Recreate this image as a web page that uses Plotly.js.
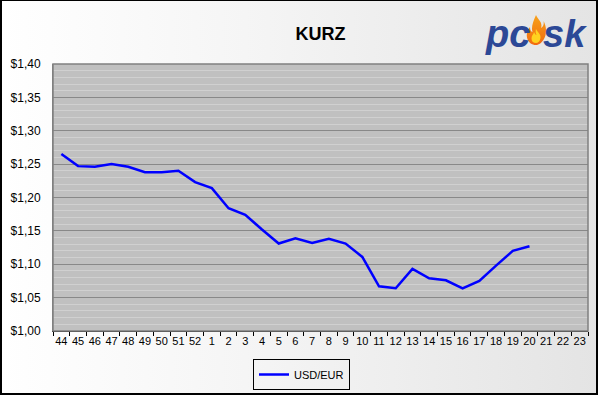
<!DOCTYPE html>
<html>
<head>
<meta charset="utf-8">
<script src="https://cdn.plot.ly/plotly-3.0.1.min.js"></script>
<style>
html,body{margin:0;padding:0;}
body{width:598px;height:395px;overflow:hidden;position:relative;background:linear-gradient(to right,#ffffff 0%,#f4f4f4 45%,#e4e4e4 100%);}
#chart{position:absolute;left:0;top:0;width:598px;height:395px;}
#frame{position:absolute;left:0;top:0;width:598px;height:395px;box-sizing:border-box;border-style:solid;border-color:#000;border-width:1px 2px 2px 2px;pointer-events:none;}
</style>
</head>
<body>
<div id="chart"></div>
<div id="frame"></div>
<script>
// Week labels (categories)
const weeks = ["44","45","46","47","48","49","50","51","52","1","2","3","4","5","6","7","8","9","10","11","12","13","14","15","16","17","18","19","20","21","22","23"];
// USD/EUR rate per week (weeks 21-23 have no data)
const usdEur = [1.265,1.247,1.246,1.250,1.246,1.238,1.238,1.240,1.223,1.214,1.184,1.174,1.152,1.131,1.139,1.132,1.138,1.131,1.111,1.067,1.064,1.093,1.079,1.076,1.064,1.075,1.098,1.120,1.127,null,null,null];
const seriesName = "USD/EUR";
const chartTitle = "KURZ";
const yTickVals = [1.00,1.05,1.10,1.15,1.20,1.25,1.30,1.35,1.40];
const yTickText = yTickVals.map(v => '$' + v.toFixed(2).replace('.', ','));

// plot area geometry (pixels)
const L = 53, R = 588, T = 64, B = 331;
const px = v => (v - L) / (R - L);
const py = v => (B - v) / (B - T);

const flameSvg = '<svg xmlns="http://www.w3.org/2000/svg" viewBox="0 0 40 64">' +
 '<defs><linearGradient id="g" x1="0" y1="0" x2="0" y2="1"><stop offset="0" stop-color="#f7a21b"/><stop offset="1" stop-color="#f26a10"/></linearGradient></defs>' +
 '<path d="M20 2 C24 12 34 16 30 28 C36 24 36 18 35 14 C41 24 42 40 36 50 C31 59 24 62 20 62 C12 62 4 57 2 47 C0 37 5 30 8 26 C8 32 10 35 13 36 C10 26 14 16 20 2 Z" fill="url(#g)"/>' +
 '<path d="M20 30 C24 38 30 40 29 48 C28 55 24 58 20 58 C15 58 11 55 11 49 C11 43 15 41 16 36 C18 40 19 42 21 42 C19 38 19 34 20 30 Z" fill="#ffd21f"/>' +
 '</svg>';
const flameUri = 'data:image/svg+xml;charset=utf-8,' + encodeURIComponent(flameSvg);

const trace = {
  type: 'scatter',
  mode: 'lines',
  x: weeks,
  y: usdEur,
  name: seriesName,
  line: {color: '#0000ff', width: 2.5},
  connectgaps: false,
  showlegend: true
};

const layout = {
  width: 598,
  height: 395,
  margin: {l: L, r: 598 - R, t: T, b: 395 - B, pad: 0, autoexpand: false},
  paper_bgcolor: 'rgba(0,0,0,0)',
  plot_bgcolor: '#c0c0c0',
  font: {family: 'Liberation Sans, Arial, sans-serif', color: '#000'},
  title: {
    text: '<b>' + chartTitle + '</b>',
    font: {size: 18, family: 'Liberation Sans, Arial, sans-serif', color: '#000'},
    x: 0.5, xref: 'paper', xanchor: 'center',
    y: 1 - 34 / 395, yref: 'container', yanchor: 'middle'
  },
  xaxis: {
    type: 'category',
    categoryorder: 'array',
    categoryarray: weeks,
    range: [-0.5, weeks.length - 0.5],
    showgrid: false,
    zeroline: false,
    showline: true,
    linecolor: '#000',
    linewidth: 1,
    mirror: false,
    ticks: 'outside',
    tickson: 'boundaries',
    ticklen: 4,
    tickcolor: '#000',
    tickfont: {size: 11, color: '#000'},
    tickangle: 0,
    automargin: false,
    fixedrange: true
  },
  yaxis: {
    range: [1.0, 1.4],
    tickmode: 'array',
    tickvals: yTickVals,
    ticktext: yTickText,
    tickfont: {size: 12, color: '#000'},
    showgrid: true,
    gridcolor: '#888888',
    gridwidth: 1,
    minor: {dtick: 0.01, showgrid: true, gridcolor: '#d0d0d0', gridwidth: 1, ticks: ''},
    zeroline: false,
    showline: true,
    linecolor: '#808080',
    linewidth: 1,
    ticks: '',
    ticklabelstandoff: 9,
    automargin: false,
    fixedrange: true
  },
  shapes: [
    {type: 'rect', xref: 'paper', yref: 'paper', x0: 0, x1: 1, y0: 0, y1: 1,
     line: {color: '#808080', width: 1.5}, fillcolor: 'rgba(0,0,0,0)', layer: 'above'}
  ],
  legend: {
    orientation: 'h',
    xref: 'container', yref: 'container',
    x: 253 / 598, xanchor: 'left',
    y: 1 - 359 / 395, yanchor: 'top',
    bgcolor: 'rgba(255,255,255,0)',
    bordercolor: '#000',
    borderwidth: 1,
    font: {size: 11, color: '#000'},
    itemwidth: 30
  },
  annotations: [
    {text: '<b><i>pc</i></b>', xref: 'paper', yref: 'paper', x: px(507), y: py(34),
     xanchor: 'center', yanchor: 'middle', showarrow: false,
     font: {size: 38, color: '#2c4896', family: 'Liberation Sans, Arial, sans-serif'}},
    {text: '<b><i>sk</i></b>', xref: 'paper', yref: 'paper', x: px(565), y: py(34),
     xanchor: 'center', yanchor: 'middle', showarrow: false,
     font: {size: 38, color: '#2c4896', family: 'Liberation Sans, Arial, sans-serif'}}
  ],
  images: [
    {source: flameUri, xref: 'paper', yref: 'paper', x: px(526), y: py(14),
     sizex: px(546) - px(526), sizey: py(14) - py(46), xanchor: 'left', yanchor: 'top',
     sizing: 'stretch', layer: 'above'}
  ],
  hovermode: false
};

Plotly.newPlot('chart', [trace], layout, {displayModeBar: false, staticPlot: true});
</script>
</body>
</html>
